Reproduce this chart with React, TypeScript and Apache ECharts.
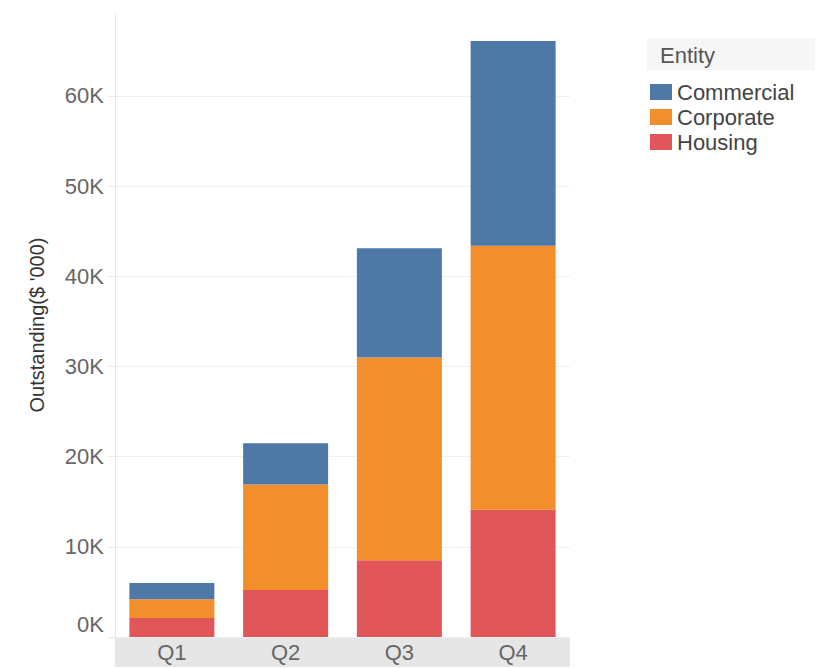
import React, { useEffect, useRef } from "react";
import * as echarts from "echarts";

const categories = ["Q1", "Q2", "Q3", "Q4"];
const housing = [2100, 5200, 8500, 14100];
const corporate = [2100, 11700, 22500, 29300];
const commercial = [1800, 4600, 12100, 22700];
const legendOrder = ["Commercial", "Corporate", "Housing"];

const FONT = '"Liberation Sans", Arial, sans-serif';

export default function App() {
  const ref = useRef<HTMLDivElement>(null);
  useEffect(() => {
    if (!ref.current) return;
    const chart = echarts.init(ref.current, null, { renderer: "svg" });
    chart.setOption({
      animation: false,
      backgroundColor: "#ffffff",
      textStyle: { fontFamily: FONT },
      grid: { left: 115, right: 247, top: 13, bottom: 31, containLabel: false },
      graphic: [
        {
          type: "rect",
          shape: { x: 115, y: 637, width: 455, height: 30 },
          style: { fill: "#e6e6e6" },
          z: -1,
        },
        {
          type: "rect",
          shape: { x: 647, y: 38, width: 168, height: 32 },
          style: { fill: "#f6f6f6" },
        },
        {
          type: "text",
          x: 660,
          y: 55,
          style: {
            text: "Entity",
            fontSize: 22,
            fontFamily: FONT,
            fill: "#555555",
            verticalAlign: "middle",
          },
        },
      ],
      legend: {
        data: legendOrder,
        orient: "vertical",
        left: 650,
        top: 81,
        padding: 0,
        itemWidth: 22,
        itemHeight: 16,
        itemGap: 3,
        icon: "rect",
        textStyle: { fontSize: 22, color: "#444444", fontFamily: FONT, lineHeight: 21 },
      },
      xAxis: {
        type: "category",
        data: categories,
        axisLine: { show: false },
        axisTick: { show: false },
        axisLabel: { fontSize: 22, color: "#666666", margin: 4, fontFamily: FONT },
      },
      yAxis: {
        type: "value",
        min: 0,
        max: 69200,
        interval: 10000,
        name: "Outstanding($ '000)",
        nameLocation: "middle",
        nameGap: 68,
        nameTextStyle: { fontSize: 20, color: "#333333", fontFamily: FONT },
        axisLine: { show: true, lineStyle: { color: "#e8e8e8", width: 1 } },
        axisTick: { show: true, length: 7, lineStyle: { color: "#e8e8e8" } },
        axisLabel: {
          fontSize: 22,
          color: "#666666",
          margin: 11,
          fontFamily: FONT,
          showMaxLabel: false,
          formatter: (v: number) => (v === 0 ? "{z|0K}" : v % 10000 === 0 ? v / 1000 + "K" : ""),
          rich: { z: { fontSize: 22, color: "#666666", fontFamily: FONT, padding: [0, 0, 26, 0] } },
        },
        splitLine: { show: true, showMaxLine: false, lineStyle: { color: "#f0f0f0", width: 1 } },
      },
      series: [
        {
          name: "Housing",
          type: "bar",
          stack: "total",
          data: housing,
          barWidth: 85,
          itemStyle: { color: "#e15759" },
        },
        {
          name: "Corporate",
          type: "bar",
          stack: "total",
          data: corporate,
          barWidth: 85,
          itemStyle: { color: "#f28e2b" },
        },
        {
          name: "Commercial",
          type: "bar",
          stack: "total",
          data: commercial,
          barWidth: 85,
          itemStyle: { color: "#4e79a7" },
        },
      ],
    });
    return () => chart.dispose();
  }, []);
  return (
    <div
      ref={ref}
      style={{ position: "absolute", left: 0, top: 0, width: 817, height: 668 }}
    />
  );
}
